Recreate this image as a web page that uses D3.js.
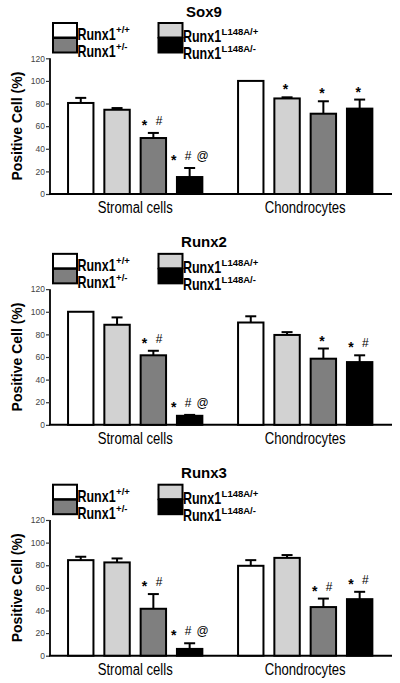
<!DOCTYPE html>
<html><head><meta charset="utf-8">
<script src="https://cdnjs.cloudflare.com/ajax/libs/d3/7.8.5/d3.min.js"></script>
<style>
html,body{margin:0;padding:0;background:#fff;}
svg{display:block;}
</style>
</head><body>
<svg id="chart" width="400" height="683"></svg>
<script>
// ---------- DATA ----------
const categories = ["Stromal cells", "Chondrocytes"];
const seriesBase = "Runx1";
const seriesSup = ["+/+", "L148A/+", "+/-", "L148A/-"];
const panelTitles = ["Sox9", "Runx2", "Runx3"];
const yTicks = [0, 20, 40, 60, 80, 100, 120];

// values[category][series], series order = seriesSup
const sox9Values = [[80.5, 74.5, 49.5, 15], [100, 84.5, 71, 75.5]];
const sox9Sem    = [[4.5, 1.5, 4.5, 8],    [0, 1, 11, 8]];
const sox9Marks  = [["", "", "*#", "*#@"], ["", "*", "*", "*"]];

const runx2Values = [[100, 88.5, 61.5, 8], [90.5, 79.5, 58.5, 55.5]];
const runx2Sem    = [[0, 6.5, 4, 0.8],     [5.5, 2.5, 9, 6]];
const runx2Marks  = [["", "", "*#", "*#@"], ["", "", "*", "*#"]];

const runx3Values = [[84.5, 82.5, 41.5, 6], [79.5, 86.5, 43, 50]];
const runx3Sem    = [[3, 3.5, 13, 5],      [5, 2.5, 7.5, 6.5]];
const runx3Marks  = [["", "", "*#", "*#@"], ["", "", "*#", "*#"]];

const panels = [
  {title: panelTitles[0], values: sox9Values, sem: sox9Sem, marks: sox9Marks},
  {title: panelTitles[1], values: runx2Values, sem: runx2Sem, marks: runx2Marks},
  {title: panelTitles[2], values: runx3Values, sem: runx3Sem, marks: runx3Marks}
];

// ---------- STYLE ----------
const fills = ["#ffffff", "#d2d2d2", "#7f7f7f", "#000000"];
const sans = "'Liberation Sans',Arial,sans-serif";

const svg = d3.select("#chart");
const panelStep = 230.85;

const x0 = d3.scaleBand().domain(categories).range([62.6, 377.8]).paddingInner(0.146).paddingOuter(0);
const x1 = d3.scaleBand().domain(d3.range(seriesSup.length)).range([0, 145.2]).paddingInner(0.3).paddingOuter(0.15);

panels.forEach((p, pi) => {
  const oy = pi * panelStep;
  const g = svg.append("g");
  const y = d3.scaleLinear().domain([0, 120]).range([194 + oy, 58.3 + oy]);

  // title
  g.append("text").attr("x", 204).attr("y", 16.5 + oy).attr("text-anchor", "middle")
    .style("font-family", sans).style("font-weight", "bold").style("font-size", "15px").text(p.title);

  // legend
  const legendPos = [[0,0],[1,0],[0,1],[1,1]]; // [col,row] for each series
  seriesSup.forEach((s, si) => {
    const [c, r] = legendPos[si];
    const lx = 53 + c * 105.5, ly = 23 + r * 15 + oy;
    g.append("rect").attr("x", lx).attr("y", ly).attr("width", 24).attr("height", 14.5)
      .attr("fill", fills[si]).attr("stroke", "#000").attr("stroke-width", 2);
    const tx = lx + 24.5, ty = 40 + r * 17 + c * 2 + oy, sx = 0.78;
    const t = g.append("text")
      .attr("transform", `translate(${tx},${ty}) scale(${sx},1)`)
      .style("font-family", sans).style("font-weight", "bold").style("font-size", "16px").text(seriesBase);
    const w = t.node().getComputedTextLength() * sx;
    g.append("text").attr("x", tx + w + 0.5).attr("y", ty - 6.8)
      .style("font-family", sans).style("font-weight", "bold").style("font-size", "9.5px").text(s);
  });

  // y axis
  const yAxis = d3.axisLeft(y).tickValues(yTicks).tickSize(4).tickPadding(1);
  const ya = g.append("g").attr("transform", "translate(50,0)").call(yAxis);
  ya.select(".domain").attr("stroke", "#000").attr("stroke-width", 1.8).attr("d", `M0,${y(120)}V${y(0)}`);
  ya.selectAll(".tick line").attr("stroke", "#333").attr("stroke-width", 1.2);
  ya.selectAll(".tick text").style("font-family", sans).style("font-size", "8.5px").attr("fill", "#444")
    .attr("textLength", null);

  // x axis line
  g.append("line").attr("x1", 49).attr("x2", 392).attr("y1", y(0)).attr("y2", y(0))
    .attr("stroke", "#000").attr("stroke-width", 2);

  // y label
  g.append("text").attr("transform", `translate(22,${(y(0)+y(120))/2}) rotate(-90)`)
    .attr("text-anchor", "middle").style("font-family", sans).style("font-weight", "bold")
    .style("font-size", "14px").text("Positive Cell (%)");

  // bars
  categories.forEach((cat, ci) => {
    const gx = x0(cat);
    seriesSup.forEach((s, si) => {
      const v = p.values[ci][si], e = p.sem[ci][si];
      const bx = gx + x1(si), bw = x1.bandwidth(), cx = bx + bw / 2;
      if (e > 0) {
        g.append("line").attr("x1", cx).attr("x2", cx).attr("y1", y(v)).attr("y2", y(v + e))
          .attr("stroke", "#000").attr("stroke-width", 2);
        g.append("line").attr("x1", cx - 5.5).attr("x2", cx + 5.5).attr("y1", y(v + e)).attr("y2", y(v + e))
          .attr("stroke", "#000").attr("stroke-width", 2);
      }
      g.append("rect").attr("x", bx).attr("y", y(v)).attr("width", bw).attr("height", y(0) - y(v))
        .attr("fill", fills[si]).attr("stroke", "#000").attr("stroke-width", 2);
      const m = p.marks[ci][si];
      if (m) {
        const syms = m.split("");
        const n = syms.length;
        syms.forEach((sym, k) => {
          const sx = cx - 1.5 + (k - (n - 1) / 2) * 14.5;
          g.append("text").attr("x", sx).attr("y", y(v + e) - 8 + (sym === "*" ? 5 : 0))
            .attr("text-anchor", "middle").style("font-family", sans)
            .style("font-weight", sym === "*" ? "bold" : "normal")
            .style("font-size", sym === "*" ? "14px" : "12px").text(sym);
        });
      }
    });
    g.append("text")
      .attr("transform", `translate(${gx + x0.bandwidth() / 2},${213 + oy}) scale(0.82,1)`)
      .attr("text-anchor", "middle").style("font-family", sans).style("font-size", "16px").text(cat);
  });
});
</script>
</body></html>
